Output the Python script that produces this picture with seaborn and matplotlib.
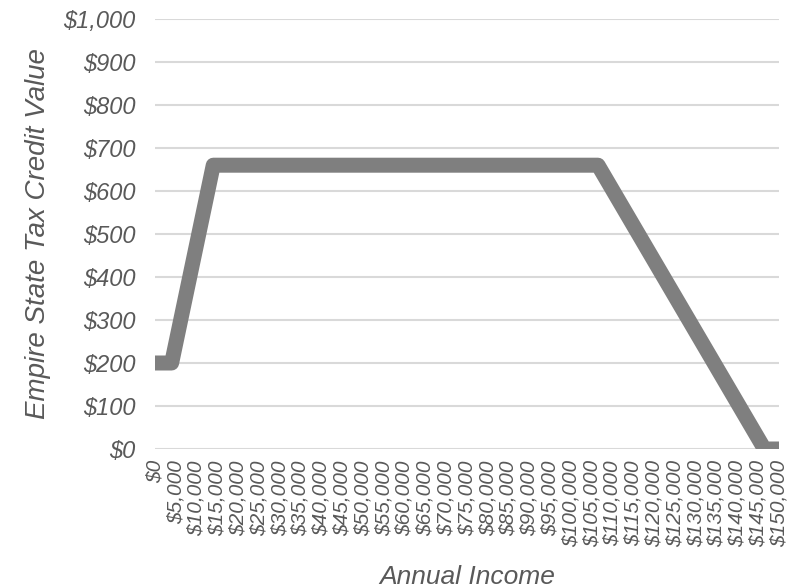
import numpy as np
import pandas as pd
import seaborn as sns
import matplotlib.pyplot as plt
from matplotlib.ticker import FuncFormatter

# Breakpoints of the credit schedule (annual income -> credit value)
income = [0, 4000, 14000, 106500, 146500, 150000]
credit = [200, 200, 660, 660, 0, 0]

# Axis ticks
x_ticks = list(range(0, 150001, 5000))
y_ticks = list(range(0, 1001, 100))

df = pd.DataFrame({'Annual Income': income, 'Credit': credit})

sns.set_theme(style='white')
plt.rcParams['font.family'] = ['Liberation Sans', 'DejaVu Sans']

text_color = '#595959'
grid_color = '#d9d9d9'

fig = plt.figure(figsize=(7.95, 5.88), dpi=100)
ax = fig.add_axes([155 / 795, 1 - 449 / 588, 624 / 795, 430 / 588])

sns.lineplot(data=df, x='Annual Income', y='Credit', ax=ax, color='#7f7f7f',
             linewidth=10.8, solid_joinstyle='round', solid_capstyle='butt')

ax.set_xlim(0, 150000)
ax.set_ylim(0, 1000)
ax.set_xticks(x_ticks)
ax.set_yticks(y_ticks)
ax.xaxis.set_major_formatter(FuncFormatter(lambda v, p: f'${v:,.0f}'))
ax.yaxis.set_major_formatter(FuncFormatter(lambda v, p: f'${v:,.0f}'))

ax.grid(axis='y', color=grid_color, linewidth=1.5)
ax.grid(axis='x', visible=False)
ax.set_axisbelow(True)
for s in ax.spines.values():
    s.set_visible(False)

ax.tick_params(axis='x', length=0, pad=8, labelsize=15, labelcolor=text_color,
               labelrotation=90)
ax.tick_params(axis='y', length=0, pad=14, labelsize=17, labelcolor=text_color)
for lab in ax.get_xticklabels() + ax.get_yticklabels():
    lab.set_fontstyle('italic')

ax.set_xlabel('Annual Income', fontsize=19, style='italic', color=text_color)
ax.set_ylabel('Empire State Tax Credit Value', fontsize=20, style='italic', color=text_color)
ax.xaxis.set_label_coords(0.5, (449 - 577) / 430)
ax.xaxis.label.set_va('center')
ax.yaxis.set_label_coords((38 - 155) / 624, 0.5)
ax.yaxis.label.set_va('center')

fig.savefig('out.png', dpi=100)
